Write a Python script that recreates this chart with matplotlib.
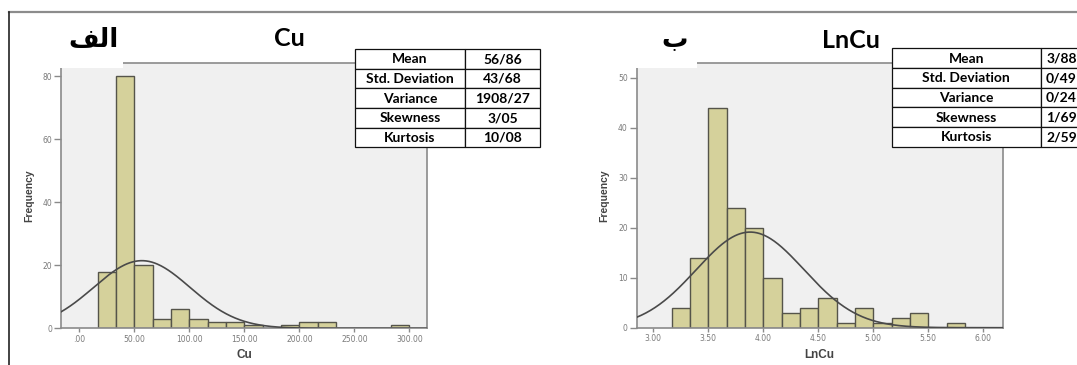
import numpy as np
import matplotlib
matplotlib.use('Agg')
import matplotlib.pyplot as plt
from matplotlib.patches import Rectangle
from matplotlib.lines import Line2D
from matplotlib.transforms import Affine2D

W, H = 1077, 365

# histogram data
cu_start = 50.0 / 3
cu_width = 50.0 / 3
cu_counts = [18, 80, 20, 3, 6, 3, 2, 2, 1, 0, 1, 2, 2, 0, 0, 0, 1]
cu_xticks = [0, 50, 100, 150, 200, 250, 300]
cu_yticks = [0, 20, 40, 60, 80]

ln_start = 3.0 + 1.0 / 6
ln_width = 1.0 / 6
ln_counts = [4, 14, 44, 24, 20, 10, 3, 4, 6, 1, 4, 1, 2, 3, 0, 1]
ln_xticks = [3.0, 3.5, 4.0, 4.5, 5.0, 5.5, 6.0]
ln_yticks = [0, 10, 20, 30, 40, 50]

# summary statistics shown in the tables
stat_names = ['Mean', 'Std. Deviation', 'Variance', 'Skewness', 'Kurtosis']
cu_stats = ['56/86', '43/68', '1908/27', '3/05', '10/08']
ln_stats = ['3/88', '0/49', '0/24', '1/69', '2/59']
cu_mean, cu_sd = 56.86, 43.68
ln_mean, ln_sd = 3.88, 0.49

BAR = '#d5d19b'
BAR_EDGE = '#55544a'
BG = '#f0f0f0'
SPINE = '#8a8a8a'

fig = plt.figure(figsize=(W / 100, H / 100), dpi=100)
# pixel transform, y measured downward from the top
pix = Affine2D().scale(1.0 / W, -1.0 / H).translate(0, 1) + fig.transFigure


def fmt_tick(v):
    s = '{:.2f}'.format(v)
    return s[1:] if s.startswith('0') else s


def panel(l, r, t, b, start, width, counts, mean, sd, xlim, ylim, xticks, yticks, xlabel):
    ax = fig.add_axes([l / W, 1 - b / H, (r - l) / W, (b - t) / H])
    ax.set_facecolor(BG)
    edges = start + width * np.arange(len(counts))
    ax.bar(edges, counts, width=width, align='edge', color=BAR,
           edgecolor=BAR_EDGE, linewidth=1.0, zorder=2)
    n = sum(counts)
    xs = np.linspace(xlim[0], xlim[1], 400)
    ys = n * width / (sd * np.sqrt(2 * np.pi)) * np.exp(-0.5 * ((xs - mean) / sd) ** 2)
    ax.plot(xs, ys, color='#4a4a4a', lw=1.2, zorder=3)
    ax.set_xlim(*xlim)
    ax.set_ylim(*ylim)
    ax.set_xticks(xticks)
    ax.set_xticklabels([fmt_tick(v) for v in xticks])
    ax.set_yticks(yticks)
    for sp in ax.spines.values():
        sp.set_color(SPINE)
        sp.set_linewidth(1.2)
    ax.tick_params(axis='both', direction='out', color=SPINE, width=1,
                   labelsize=5.5, labelcolor='#7a7a7a')
    ax.tick_params(axis='y', length=5, pad=1.5)
    ax.tick_params(axis='x', length=3, pad=1.5)
    ax.set_xlabel(xlabel, fontsize=8.5, fontweight='bold', color='#444444',
                  family='Liberation Sans', labelpad=4)
    ax.set_ylabel('Frequency', fontsize=7.5, fontweight='bold', color='#444444',
                  family='Liberation Sans', labelpad=6)
    return ax


panel(61, 427, 63.3, 328.3, cu_start, cu_width, cu_counts, cu_mean, cu_sd,
      (-16.6, 316), (0, 84.1), cu_xticks, cu_yticks, 'Cu')
panel(636.7, 1002.7, 63.3, 327.7, ln_start, ln_width, ln_counts, ln_mean, ln_sd,
      (2.849, 6.176), (0, 52.9), ln_xticks, ln_yticks, 'LnCu')

# frame lines of the slide
fig.add_artist(Line2D([9, W], [12, 12], transform=pix, color='#8c8c8c', lw=1.6))
fig.add_artist(Line2D([9.3, 9.3], [12, H], transform=pix, color='#222222', lw=1.2))

# white boxes behind the panel letters
for x0, x1 in [(50, 123), (626, 697)]:
    fig.add_artist(Rectangle((x0, 18), x1 - x0, 50, transform=pix,
                             facecolor='white', edgecolor='none', zorder=4))

# titles
title_font = ['Lato', 'DejaVu Sans']
fig.text(289, 39, 'Cu', transform=pix, ha='center', va='center', fontsize=18,
         fontweight='bold', family=title_font, zorder=6)
fig.text(851, 41, 'LnCu', transform=pix, ha='center', va='center', fontsize=18,
         fontweight='bold', family=title_font, zorder=6)
# Arabic letters, given in visual order with presentation forms
fig.text(93, 40, '\ufed2\ufedf\ufe8d', transform=pix, ha='center', va='center',
         fontsize=19, fontweight='bold', family=['DejaVu Sans'], zorder=6)
fig.text(675, 40, '\ufe8f', transform=pix, ha='center', va='center',
         fontsize=19, fontweight='bold', family=['DejaVu Sans'], zorder=6)


def stats_table(x0, x1, x2, y0, y1, values):
    rh = (y1 - y0) / len(stat_names)
    for i, (name, val) in enumerate(zip(stat_names, values)):
        y = y0 + i * rh
        for a, b in [(x0, x1), (x1, x2)]:
            fig.add_artist(Rectangle((a, y), b - a, rh, transform=pix, facecolor='white',
                                     edgecolor='#111111', lw=0.9, zorder=5))
        fig.text((x0 + x1) / 2, y + rh / 2 + 0.5, name, transform=pix, ha='center',
                 va='center', fontsize=10, fontweight='bold', family=title_font, zorder=6)
        fig.text((x1 + x2) / 2, y + rh / 2 + 0.5, val, transform=pix, ha='center',
                 va='center', fontsize=10, fontweight='bold', family=title_font, zorder=6)


stats_table(355, 465, 540, 49, 147.3, cu_stats)
stats_table(891.7, 1041, 1082, 48.3, 146.7, ln_stats)

fig.savefig('out.png', dpi=100)
